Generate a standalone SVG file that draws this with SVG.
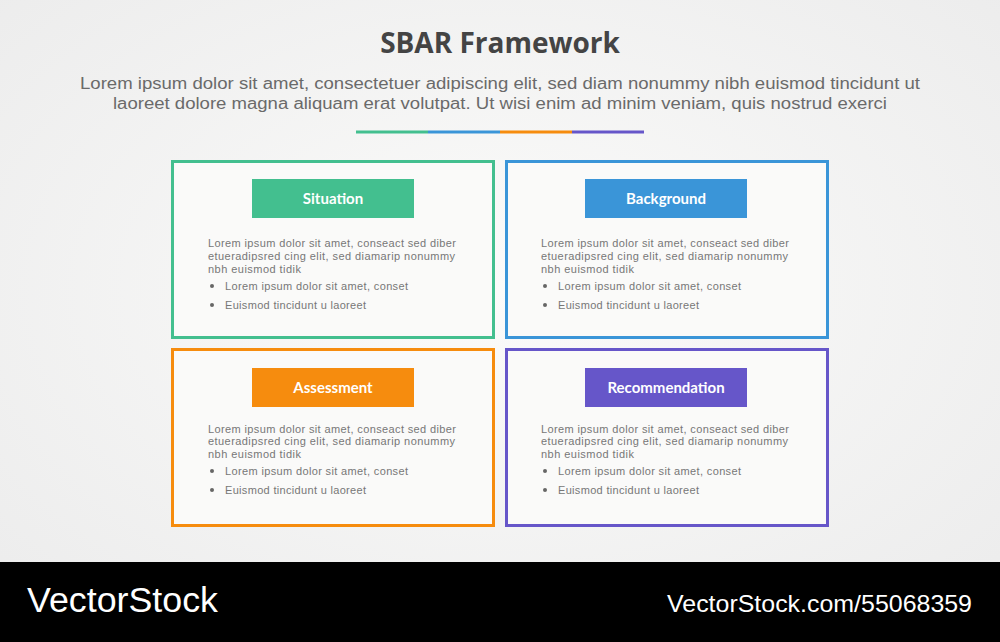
<svg xmlns="http://www.w3.org/2000/svg" width="1000" height="642" viewBox="0 0 1000 642">
<defs>
<radialGradient id="bg" cx="0.5" cy="0.45" r="0.7"><stop offset="0" stop-color="#fbfbfa"/><stop offset="1" stop-color="#ececec"/></radialGradient>
<style>
.box{fill:#fafaf9;stroke-width:3}
.lbl{font-family:Lato,"Liberation Sans",sans-serif;font-weight:bold;font-size:15px;fill:#fff;text-anchor:middle}
.body{font-family:"Liberation Sans",sans-serif;font-size:11px;fill:#777}
.dot{fill:#666}
</style>
</defs>
<rect width="1000" height="642" fill="url(#bg)"/>
<text x="500" y="53" text-anchor="middle" font-family="'Open Sans','Liberation Sans',sans-serif" font-weight="bold" font-size="28" fill="#444">SBAR Framework</text>
<g font-family="'Liberation Sans',sans-serif" font-size="16" fill="#6a6a6a">
<text x="80" y="89" textLength="840" lengthAdjust="spacingAndGlyphs">Lorem ipsum dolor sit amet, consectetuer adipiscing elit, sed diam nonummy nibh euismod tincidunt ut</text>
<text x="113" y="109" textLength="774" lengthAdjust="spacingAndGlyphs">laoreet dolore magna aliquam erat volutpat. Ut wisi enim ad minim veniam, quis nostrud exerci</text>
</g>
<g stroke-width="3">
<line x1="356" y1="132" x2="428" y2="132" stroke="#43bf8f"/>
<line x1="428" y1="132" x2="500" y2="132" stroke="#3a95d8"/>
<line x1="500" y1="132" x2="572" y2="132" stroke="#f68c0e"/>
<line x1="572" y1="132" x2="644" y2="132" stroke="#6656c9"/>
</g>
<g id="situation">
<rect class="box" x="172.5" y="161.5" width="321" height="176" stroke="#43bf8f"/>
<rect x="252" y="179" width="162" height="39" fill="#43bf8f"/>
<text class="lbl" x="333" y="204">Situation</text>
<text class="body" x="208" y="247" textLength="248">Lorem ipsum dolor sit amet, conseact sed diber</text>
<text class="body" x="208" y="260" textLength="247">etueradipsred cing elit, sed diamarip nonummy</text>
<text class="body" x="208" y="273" textLength="93">nbh euismod tidik</text>
<circle class="dot" cx="212" cy="286" r="2"/><text class="body" x="225" y="290" textLength="183">Lorem ipsum dolor sit amet, conset</text>
<circle class="dot" cx="212" cy="305" r="2"/><text class="body" x="225" y="309" textLength="141">Euismod tincidunt u laoreet</text>
</g>
<g id="background">
<rect class="box" x="506.5" y="161.5" width="321" height="176" stroke="#3a95d8"/>
<rect x="585" y="179" width="162" height="39" fill="#3a95d8"/>
<text class="lbl" x="666" y="204">Background</text>
<text class="body" x="541" y="247" textLength="248">Lorem ipsum dolor sit amet, conseact sed diber</text>
<text class="body" x="541" y="260" textLength="247">etueradipsred cing elit, sed diamarip nonummy</text>
<text class="body" x="541" y="273" textLength="93">nbh euismod tidik</text>
<circle class="dot" cx="545" cy="286" r="2"/><text class="body" x="558" y="290" textLength="183">Lorem ipsum dolor sit amet, conset</text>
<circle class="dot" cx="545" cy="305" r="2"/><text class="body" x="558" y="309" textLength="141">Euismod tincidunt u laoreet</text>
</g>
<g id="assessment">
<rect class="box" x="172.5" y="349.5" width="321" height="176" stroke="#f68c0e"/>
<rect x="252" y="368" width="162" height="39" fill="#f68c0e"/>
<text class="lbl" x="333" y="393">Assessment</text>
<text class="body" x="208" y="433" textLength="248">Lorem ipsum dolor sit amet, conseact sed diber</text>
<text class="body" x="208" y="445" textLength="247">etueradipsred cing elit, sed diamarip nonummy</text>
<text class="body" x="208" y="458" textLength="93">nbh euismod tidik</text>
<circle class="dot" cx="212" cy="471" r="2"/><text class="body" x="225" y="475" textLength="183">Lorem ipsum dolor sit amet, conset</text>
<circle class="dot" cx="212" cy="490" r="2"/><text class="body" x="225" y="494" textLength="141">Euismod tincidunt u laoreet</text>
</g>
<g id="recommendation">
<rect class="box" x="506.5" y="349.5" width="321" height="176" stroke="#6656c9"/>
<rect x="585" y="368" width="162" height="39" fill="#6656c9"/>
<text class="lbl" x="666" y="393">Recommendation</text>
<text class="body" x="541" y="433" textLength="248">Lorem ipsum dolor sit amet, conseact sed diber</text>
<text class="body" x="541" y="445" textLength="247">etueradipsred cing elit, sed diamarip nonummy</text>
<text class="body" x="541" y="458" textLength="93">nbh euismod tidik</text>
<circle class="dot" cx="545" cy="471" r="2"/><text class="body" x="558" y="475" textLength="183">Lorem ipsum dolor sit amet, conset</text>
<circle class="dot" cx="545" cy="490" r="2"/><text class="body" x="558" y="494" textLength="141">Euismod tincidunt u laoreet</text>
</g>
<g id="connectors"/>
<rect x="0" y="562" width="1000" height="80" fill="#000"/>
<text x="27" y="612" font-family="'Liberation Sans',sans-serif" font-size="35" fill="#fff" textLength="191" lengthAdjust="spacingAndGlyphs">VectorStock</text>
<text x="667" y="612" font-family="'Liberation Sans',sans-serif" font-size="24" fill="#fff" textLength="305" lengthAdjust="spacingAndGlyphs">VectorStock.com/55068359</text>
</svg>
